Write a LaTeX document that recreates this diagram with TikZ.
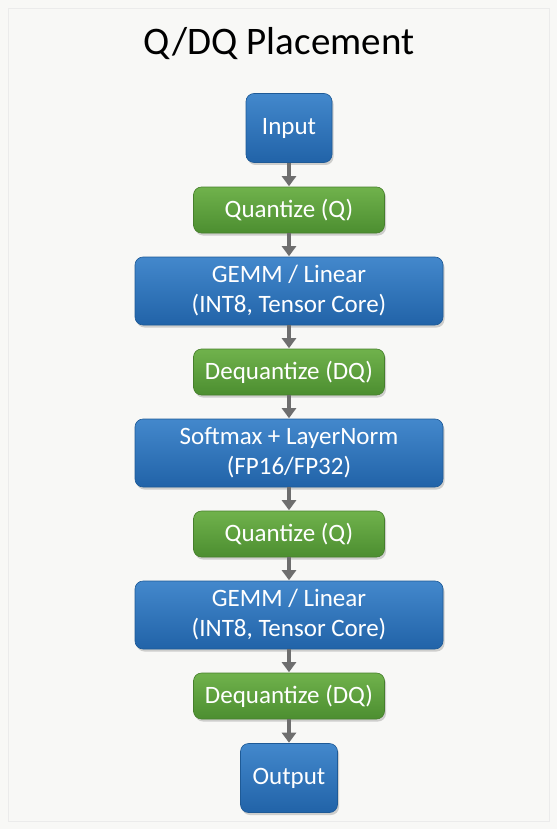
\documentclass[tikz,border=0pt]{standalone}
\usepackage{fontspec}
\setmainfont{Carlito}
\usetikzlibrary{arrows.meta,shadows}
\definecolor{bluetop}{HTML}{4388CC}
\definecolor{bluebot}{HTML}{2163A8}
\definecolor{bluedraw}{HTML}{1E5A96}
\definecolor{greentop}{HTML}{70B24C}
\definecolor{greenbot}{HTML}{4C8E30}
\definecolor{greendraw}{HTML}{467F2C}
\definecolor{arrgray}{HTML}{6E6E6E}
\definecolor{bgcol}{HTML}{F8F8F6}
\tikzset{
  boxbase/.style={rounded corners=8pt, text=white, align=center, inner sep=0pt,
    font=\fontsize{25}{30}\selectfont,
    drop shadow={opacity=0.35, shadow xshift=1.5pt, shadow yshift=-2.5pt}},
  bluebox/.style={boxbase, top color=bluetop, bottom color=bluebot, draw=bluedraw, line width=0.6pt},
  greenbox/.style={boxbase, top color=greentop, bottom color=greenbot, draw=greendraw, line width=0.6pt},
  arr/.style={draw=arrgray, line width=3.5pt, -{Triangle[length=10pt,width=14pt]}, shorten >=0.5pt}
}
\begin{document}
\begin{tikzpicture}[x=1pt,y=-1pt]
\fill[bgcol] (0,0) rectangle (557,829);
\draw[black!8, line width=0.8pt] (8,8) rectangle (549,821);
\useasboundingbox (0,0) rectangle (557,829);
\node[font=\fontsize{39}{44}\selectfont, text=black] (title) at (279,44) {Q/DQ Placement};
\node[bluebox, minimum width=86pt, minimum height=69pt] (in) at (289,128) {Input};
\node[greenbox, minimum width=191pt, minimum height=46pt] (q1) at (289,210) {Quantize (Q)};
\node[bluebox, minimum width=308pt, minimum height=68pt] (g1) at (289,291) {GEMM / Linear\\(INT8, Tensor Core)};
\node[greenbox, minimum width=191pt, minimum height=46pt] (d1) at (289,372) {Dequantize (DQ)};
\node[bluebox, minimum width=308pt, minimum height=68pt] (sm) at (289,453) {Softmax + LayerNorm\\(FP16/FP32)};
\node[greenbox, minimum width=191pt, minimum height=46pt] (q2) at (289,534) {Quantize (Q)};
\node[bluebox, minimum width=308pt, minimum height=68pt] (g2) at (289,615) {GEMM / Linear\\(INT8, Tensor Core)};
\node[greenbox, minimum width=191pt, minimum height=46pt] (d2) at (289,696) {Dequantize (DQ)};
\node[bluebox, minimum width=97pt, minimum height=69pt] (out) at (289,778) {Output};
\draw[arr] (in) -- (q1);
\draw[arr] (q1) -- (g1);
\draw[arr] (g1) -- (d1);
\draw[arr] (d1) -- (sm);
\draw[arr] (sm) -- (q2);
\draw[arr] (q2) -- (g2);
\draw[arr] (g2) -- (d2);
\draw[arr] (d2) -- (out);
\end{tikzpicture}
\end{document}
